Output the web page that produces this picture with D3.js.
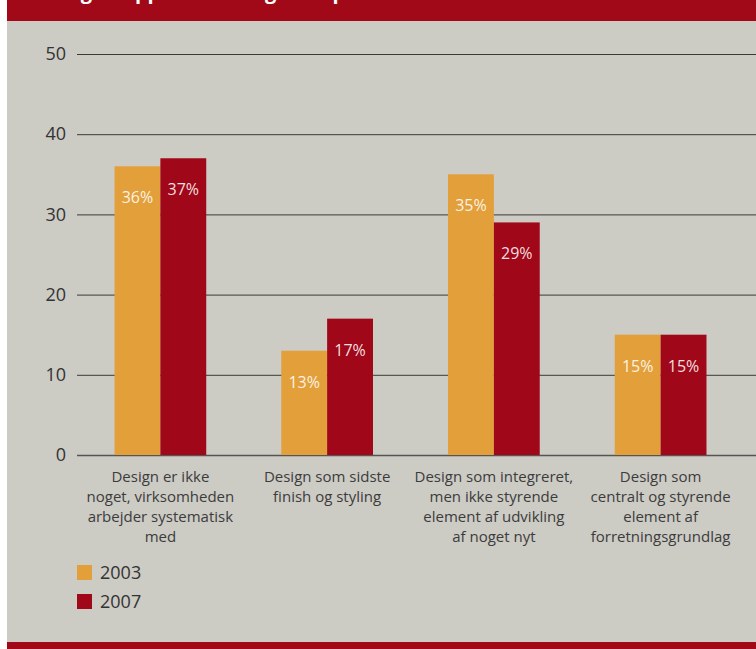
<!DOCTYPE html>
<html>
<head>
<meta charset="utf-8">
<script src="https://cdn.jsdelivr.net/npm/d3@7"></script>
<style>
  html, body { margin: 0; padding: 0; background: #fff; }
  svg { display: block; }
</style>
</head>
<body>
<svg id="chart" width="756" height="649"></svg>
<script>
// Chart data
const categories = [
  ["Design er ikke", "noget, virksomheden", "arbejder systematisk", "med"],
  ["Design som sidste", "finish og styling"],
  ["Design som integreret,", "men ikke styrende", "element af udvikling", "af noget nyt"],
  ["Design som", "centralt og styrende", "element af", "forretningsgrundlag"]
];
const seriesNames = ["2003", "2007"];
const values2003 = [36, 13, 35, 15];
const values2007 = [37, 17, 29, 15];
const yTicks = [0, 10, 20, 30, 40, 50];
const titleText = "Designtrappen i 2003 og 2007 på virksomhedsniveau";

const colors = { "2003": "#e3a03a", "2007": "#a00719" };
const font = "'Open Sans', 'Noto Sans', sans-serif";

const svg = d3.select("#chart");
const W = 756, H = 649;

// Panel and banners
svg.append("rect").attr("x", 7).attr("y", 0).attr("width", W - 7).attr("height", H).attr("fill", "#cccbc4");
svg.append("rect").attr("x", 7).attr("y", 0).attr("width", W - 7).attr("height", 21).attr("fill", "#a10919");
svg.append("rect").attr("x", 7).attr("y", 642).attr("width", W - 7).attr("height", 7).attr("fill", "#a10919");
svg.append("text")
  .attr("x", 38).attr("y", -1)
  .attr("fill", "#fff")
  .attr("font-family", font).attr("font-weight", 700).attr("font-size", 20)
  .text(titleText);

// Scales
const x = d3.scaleBand()
  .domain(d3.range(categories.length))
  .range([77, 744])
  .paddingInner(0.45)
  .paddingOuter(0.225);
const xs = d3.scaleBand().domain(seriesNames).range([0, x.bandwidth()]);
const y = d3.scaleLinear().domain([0, 50]).range([455, 54]);

// Gridlines + y tick labels
const yAxis = d3.axisLeft(y).tickValues(yTicks).tickSize(-(W - 77)).tickPadding(11).tickFormat(d3.format("d"));
const gy = svg.append("g").attr("transform", "translate(77,0)").call(yAxis);
gy.select(".domain").remove();
gy.selectAll(".tick line").attr("stroke", d => d === 0 ? "#555" : "#3a3a3a").attr("stroke-width", d => d === 0 ? 1.5 : 1);
gy.selectAll(".tick text")
  .attr("font-family", font).attr("font-size", 18).attr("fill", "#333");

// Bars
const rows = categories.map((c, i) => ({ i, vals: [values2003[i], values2007[i]] }));
const groups = svg.append("g").selectAll("g").data(rows).join("g")
  .attr("transform", d => `translate(${x(d.i)},0)`);

const barData = d => seriesNames.map((s, k) => ({ s, v: d.vals[k] }));
groups.selectAll("rect").data(barData).join("rect")
  .attr("x", d => xs(d.s))
  .attr("y", d => y(d.v))
  .attr("width", xs.bandwidth())
  .attr("height", d => y(0) - y(d.v))
  .attr("fill", d => colors[d.s]);

groups.selectAll("text.val").data(barData).join("text")
  .attr("class", "val")
  .attr("x", d => xs(d.s) + xs.bandwidth() / 2)
  .attr("y", d => y(d.v) + 37)
  .attr("text-anchor", "middle")
  .attr("font-family", font).attr("font-size", 16)
  .attr("fill", "#fff").attr("fill-opacity", 0.88)
  .text(d => d.v + "%");

// Category labels
const cat = svg.append("g").selectAll("text").data(rows).join("text")
  .attr("x", d => x(d.i) + x.bandwidth() / 2)
  .attr("y", 482)
  .attr("text-anchor", "middle")
  .attr("font-family", font).attr("font-size", 15)
  .attr("fill", "#3c3c3c");
cat.selectAll("tspan").data(d => categories[d.i]).join("tspan")
  .attr("x", function () { return d3.select(this.parentNode).attr("x"); })
  .attr("dy", (d, k) => k === 0 ? 0 : 20)
  .text(d => d);

// Legend
const leg = svg.append("g").selectAll("g").data(seriesNames).join("g")
  .attr("transform", (d, k) => `translate(77,${565 + k * 29})`);
leg.append("rect").attr("width", 15).attr("height", 15).attr("fill", d => colors[d]);
leg.append("text")
  .attr("x", 23).attr("y", 14)
  .attr("font-family", font).attr("font-size", 18).attr("fill", "#333")
  .text(d => d);
</script>
</body>
</html>
